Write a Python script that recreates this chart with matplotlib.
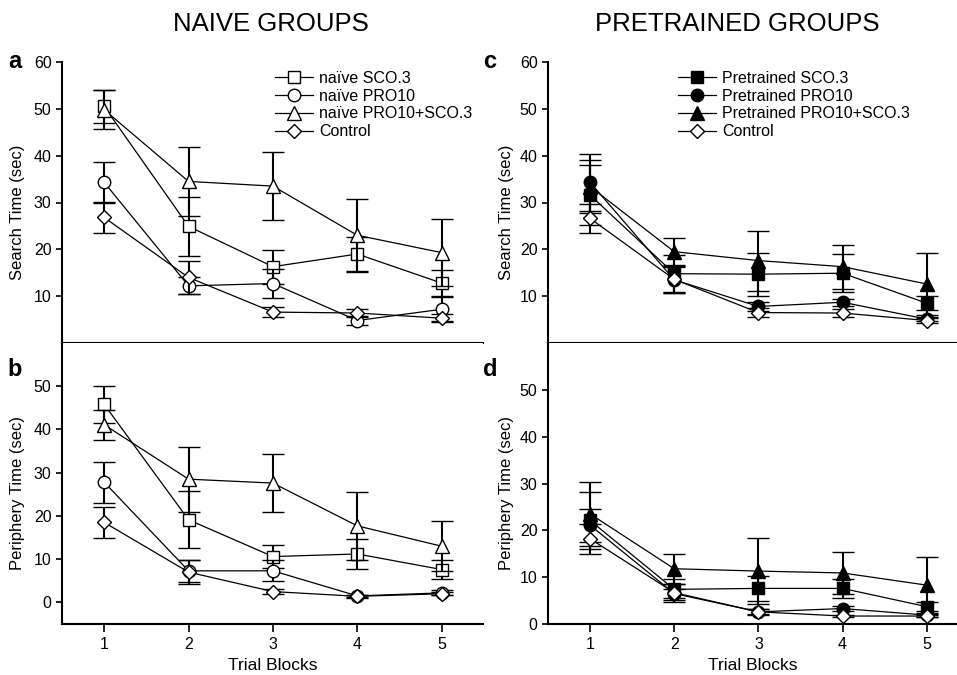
import numpy as np
import matplotlib
matplotlib.use("Agg")
import matplotlib.pyplot as plt

plt.rcParams['font.family'] = ['Liberation Sans', 'DejaVu Sans']

# --- data ---
blocks = [1, 2, 3, 4, 5]

# naive groups, search time (panel a)
sco_a = [50.5, 24.9, 16.3, 19.0, 12.8]
sco_a_err = [3.5, 6.3, 3.6, 3.7, 2.8]
pro_a = [34.3, 12.2, 12.7, 4.8, 7.2]
pro_a_err = [4.4, 1.8, 3.1, 1.0, 2.6]
mix_a = [49.8, 34.5, 33.5, 23.0, 19.3]
mix_a_err = [4.2, 7.4, 7.2, 7.8, 7.1]
ctl_a = [26.8, 14.0, 6.6, 6.4, 5.3]
ctl_a_err = [3.3, 3.5, 1.0, 0.8, 0.8]

# naive groups, periphery time (panel b)
sco_b = [45.8, 19.1, 10.6, 11.2, 7.6]
sco_b_err = [4.2, 6.6, 2.7, 3.5, 2.3]
pro_b = [27.8, 7.3, 7.3, 1.5, 2.2]
pro_b_err = [4.7, 2.6, 2.4, 0.3, 0.6]
mix_b = [41.1, 28.5, 27.6, 17.7, 13.0]
mix_b_err = [3.5, 7.5, 6.8, 7.9, 5.8]
ctl_b = [18.5, 7.0, 2.5, 1.4, 2.0]
ctl_b_err = [3.5, 2.8, 0.5, 0.3, 0.3]

# pretrained groups, search time (panel c)
sco_c = [31.6, 14.8, 14.7, 14.9, 8.5]
sco_c_err = [6.4, 4.0, 4.6, 4.1, 1.5]
pro_c = [34.3, 13.5, 7.8, 8.7, 5.1]
pro_c_err = [6.1, 2.8, 1.0, 0.8, 0.5]
mix_c = [33.4, 19.5, 17.6, 16.3, 12.6]
mix_c_err = [5.7, 3.0, 6.4, 4.7, 6.7]
ctl_c = [26.6, 13.6, 6.5, 6.4, 4.8]
ctl_c_err = [3.1, 3.0, 1.0, 0.8, 0.5]

# pretrained groups, periphery time (panel d)
sco_d = [22.1, 7.4, 7.6, 7.6, 3.7]
sco_d_err = [6.1, 2.3, 2.6, 2.1, 1.0]
pro_d = [21.1, 6.5, 2.6, 3.3, 1.9]
pro_d_err = [3.5, 1.0, 0.7, 0.5, 0.3]
mix_d = [23.5, 11.8, 11.3, 10.9, 8.3]
mix_d_err = [6.9, 3.2, 7.1, 4.5, 6.0]
ctl_d = [18.2, 6.7, 2.6, 1.7, 1.7]
ctl_d_err = [3.2, 1.9, 0.5, 0.3, 0.3]

naive_labels = ['naïve SCO.3', 'naïve PRO10', 'naïve PRO10+SCO.3', 'Control']
pre_labels = ['Pretrained SCO.3', 'Pretrained PRO10', 'Pretrained PRO10+SCO.3', 'Control']

markers = ['s', 'o', '^', 'D']
msizes = [8, 9, 9.5, 7]

W, H = 957, 675
fig = plt.figure(figsize=(W / 100, H / 100), dpi=100)


def px_axes(left, right, top, bottom):
    return fig.add_axes([left / W, 1 - bottom / H, (right - left) / W, (bottom - top) / H])


ax_a = px_axes(62, 483, 62, 343)
ax_b = px_axes(62, 483, 343, 624)
ax_c = px_axes(548, 957, 62, 343)
ax_d = px_axes(548, 957, 343, 624)


def draw_series(ax, series, filled):
    handles = []
    for i, (y, e) in enumerate(series):
        fc = 'black' if (filled and i < 3) else 'white'
        h = ax.errorbar(blocks, y, yerr=e, fmt='-', color='black', lw=0.9,
                        marker=markers[i], ms=msizes[i], mfc=fc, mec='black', mew=1.0,
                        ecolor='black', elinewidth=1.5, capsize=8, capthick=1.5,
                        zorder=3 + i)
        handles.append(h)
    return handles


def style(ax, ylim, yticks, xright, bottom_labels):
    ax.set_xlim(0.5, xright)
    ax.set_ylim(*ylim)
    ax.set_yticks(yticks)
    ax.set_xticks(blocks)
    for s in ['top', 'right']:
        ax.spines[s].set_visible(False)
    for s in ['left', 'bottom']:
        ax.spines[s].set_linewidth(1.5)
    ax.tick_params(axis='both', direction='out', length=4, width=1.2, labelsize=11.5)
    ax.tick_params(axis='x', length=6)
    if not bottom_labels:
        ax.tick_params(axis='x', labelbottom=False)
    else:
        ax.set_xlabel('Trial Blocks', fontsize=12.5, labelpad=4)


ha = draw_series(ax_a, [(sco_a, sco_a_err), (pro_a, pro_a_err), (mix_a, mix_a_err), (ctl_a, ctl_a_err)], False)
draw_series(ax_b, [(sco_b, sco_b_err), (pro_b, pro_b_err), (mix_b, mix_b_err), (ctl_b, ctl_b_err)], False)
hc = draw_series(ax_c, [(sco_c, sco_c_err), (pro_c, pro_c_err), (mix_c, mix_c_err), (ctl_c, ctl_c_err)], True)
draw_series(ax_d, [(sco_d, sco_d_err), (pro_d, pro_d_err), (mix_d, mix_d_err), (ctl_d, ctl_d_err)], True)

style(ax_a, (0, 60), [10, 20, 30, 40, 50, 60], 5.49, False)
style(ax_b, (-5, 60), [0, 10, 20, 30, 40, 50], 5.49, True)
style(ax_c, (0, 60), [10, 20, 30, 40, 50, 60], 5.36, False)
style(ax_d, (0, 60), [0, 10, 20, 30, 40, 50], 5.36, True)

for ax, lab, xc in [(ax_a, 'Search Time (sec)', -0.088), (ax_b, 'Periphery Time (sec)', -0.088),
                    (ax_c, 'Search Time (sec)', -0.083), (ax_d, 'Periphery Time (sec)', -0.083)]:
    ax.set_ylabel(lab, fontsize=12)
    ax.yaxis.set_label_coords(xc, 0.465)

# legends
leg_kw = dict(loc='upper left', frameon=False, fontsize=11.5, borderaxespad=0, borderpad=0,
              handlelength=2.4, handletextpad=0.37, labelspacing=0.17)
la = [h[0] for h in ha]
lc = [h[0] for h in hc]
ax_a.legend(la, naive_labels, bbox_to_anchor=(0.506, 0.968), **leg_kw)
ax_c.legend(lc, pre_labels, bbox_to_anchor=(0.318, 0.968), **leg_kw)

# panel letters and group titles
for xp, yp, t in [(15, 62, 'a'), (15, 370, 'b'), (490, 62, 'c'), (490, 370, 'd')]:
    fig.text(xp / W, 1 - yp / H, t, fontsize=17, fontweight='bold', ha='center', va='center')
fig.text(271 / W, 1 - 24 / H, 'NAIVE GROUPS', fontsize=18.5, ha='center', va='center')
fig.text(737 / W, 1 - 24 / H, 'PRETRAINED GROUPS', fontsize=18.5, ha='center', va='center')

fig.savefig('out.png', dpi=100)
